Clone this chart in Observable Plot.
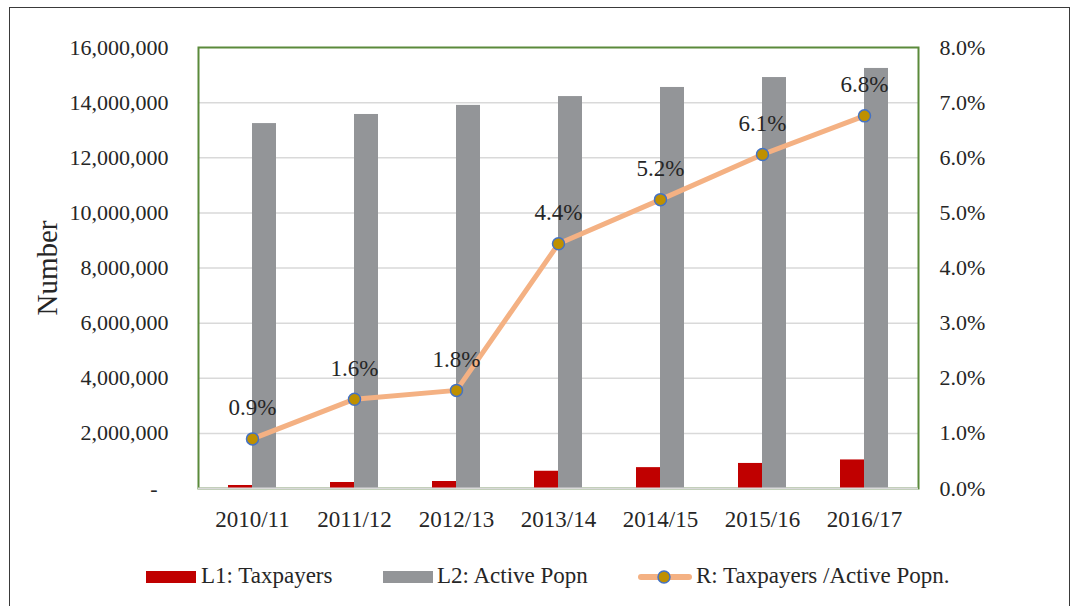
<!DOCTYPE html>
<html>
<head>
<meta charset="utf-8">
<script src="https://cdn.jsdelivr.net/npm/d3@7"></script>
<script src="https://cdn.jsdelivr.net/npm/@observablehq/plot@0.6"></script>
<style>
  html, body { margin: 0; padding: 0; background: #fff; overflow: hidden; }
  body { width: 1073px; height: 606px; position: relative; color: #262626; }
  #frame { position: absolute; left: 9px; top: 7px; width: 1061px; height: 640px; border: 1.5px solid #3a3a3a; border-bottom: none; box-sizing: border-box; }
  #chart { position: absolute; left: 0; top: 0; }
  #legend { position: absolute; left: 0; top: 550px; }
</style>
</head>
<body>
<div id="frame"></div>
<div id="chart"></div>
<svg id="legend" width="1073" height="50" font-family="Liberation Serif, serif" font-size="23" fill="#262626">
  <rect x="146" y="21" width="50" height="12" fill="#c00000"></rect>
  <text x="201" y="33">L1: Taxpayers</text>
  <rect x="383" y="21" width="50" height="12" fill="#939598"></rect>
  <text x="437" y="33">L2: Active Popn</text>
  <line x1="641" y1="27" x2="689" y2="27" stroke="#f4b183" stroke-width="6" stroke-linecap="round"></line>
  <circle cx="664" cy="27" r="6" fill="#bf9000" stroke="#4472c4" stroke-width="1.5"></circle>
  <text x="696" y="33">R: Taxpayers /Active Popn.</text>
</svg>
<script>
const categories = ["2010/11", "2011/12", "2012/13", "2013/14", "2014/15", "2015/16", "2016/17"];
const taxpayers = [109000, 218000, 254000, 626000, 757000, 909000, 1036000];
const activePopn = [13240000, 13570000, 13900000, 14220000, 14550000, 14910000, 15240000];
const ratio = [0.0090, 0.0162, 0.0178, 0.0444, 0.0524, 0.0606, 0.0676];
const leftTicks = [0, 2000000, 4000000, 6000000, 8000000, 10000000, 12000000, 14000000, 16000000];
const rightTicks = [0, 0.01, 0.02, 0.03, 0.04, 0.05, 0.06, 0.07, 0.08];

const k = 16000000 / 0.08; // right axis mapped onto left scale
const data = categories.map((c, i) => ({cat: c, tax: taxpayers[i], pop: activePopn[i], ratio: ratio[i]}));
const fmt = d3.format(",");

const chart = Plot.plot({
  width: 1073,
  height: 540,
  marginLeft: 198,
  marginRight: 155,
  marginTop: 47,
  marginBottom: 52,
  style: {fontFamily: "Liberation Serif", fontSize: "22px", color: "#262626", background: "transparent", overflow: "visible"},
  x: {domain: categories, paddingInner: 0.534, paddingOuter: 0.267, label: null},
  y: {domain: [0, 16000000], label: null},
  marks: [
    Plot.gridY(leftTicks.filter(d => d > 0 && d < 16000000), {stroke: "#d9d9d9", strokeOpacity: 1, strokeWidth: 1.5}),
    Plot.frame({stroke: "#5b8a3b", strokeWidth: 2}),
    Plot.barY(data, {x: "cat", y: "tax", fill: "#c00000", insetRight: 24}),
    Plot.barY(data, {x: "cat", y: "pop", fill: "#939598", insetLeft: 24}),
    Plot.ruleY([0], {stroke: "#d9d9d9", strokeWidth: 2}),
    Plot.line(data, {x: "cat", y: d => d.ratio * k, stroke: "#f4b183", strokeWidth: 5, strokeLinecap: "round"}),
    Plot.dot(data, {x: "cat", y: d => d.ratio * k, r: 6, fill: "#bf9000", stroke: "#4472c4", strokeWidth: 1.5}),
    Plot.text(data, {x: "cat", y: d => d.ratio * k, text: d => (d.ratio * 100).toFixed(1) + "%", dy: -31, fontSize: 23, fill: "#262626"}),
    Plot.axisY(leftTicks, {anchor: "left", tickSize: 0, tickPadding: 30, fontSize: 22, label: null,
      tickFormat: d => d === 0 ? "-\u00a0\u00a0" : fmt(d)}),
    Plot.text(["Number"], {frameAnchor: "left", textAnchor: "middle", dx: -151, rotate: -90, fontSize: 29, fill: "#262626"}),
    Plot.axisY(rightTicks.map(v => v * k), {anchor: "right", tickSize: 0, tickPadding: 21, label: null, fontSize: 22,
      tickFormat: d => (d / k * 100).toFixed(1) + "%"}),
    Plot.axisX({tickSize: 0, tickPadding: 22, label: null, fontSize: 23})
  ]
});
document.getElementById("chart").appendChild(chart);
</script>
</body>
</html>
